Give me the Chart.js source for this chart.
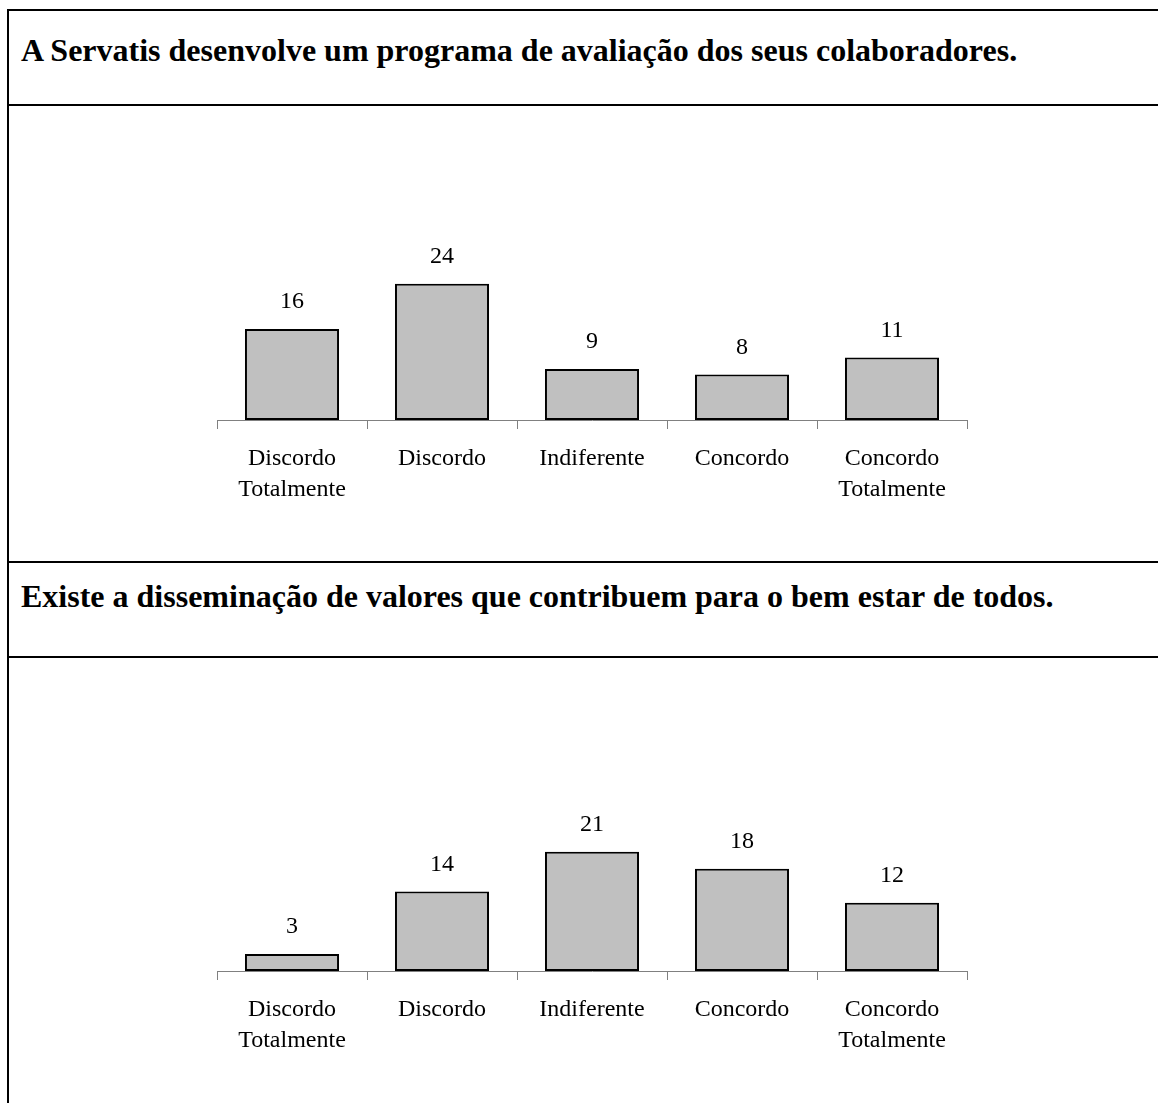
<!DOCTYPE html>
<html lang="pt">
<head>
<meta charset="utf-8">
<title>Avaliação e valores</title>
<script src="https://cdn.jsdelivr.net/npm/chart.js@4/dist/chart.umd.min.js"></script>
<style>
  html, body { margin: 0; padding: 0; background: #fff; overflow: hidden; }
  body { width: 1158px; height: 1103px; position: relative; font-family: "Liberation Serif", "Times New Roman", serif; }
  .hline { position: absolute; left: 7px; width: 1151px; height: 2px; background: #000; }
  .vline { position: absolute; left: 7px; top: 9px; width: 2px; height: 1094px; background: #000; }
  .title { position: absolute; left: 21px; font-weight: bold; font-size: 32px; line-height: 40px; white-space: nowrap; color: #000; }
  .chart-box { position: absolute; }
</style>
</head>
<body>
<div class="vline"></div>
<div class="hline" style="top:9px"></div>
<div class="hline" style="top:104px"></div>
<div class="hline" style="top:561px"></div>
<div class="hline" style="top:656px"></div>

<div class="title" id="title1" style="top:30px"></div>
<div class="title" id="title2" style="top:576px"></div>

<div class="chart-box" style="left:167px; top:136px;"><canvas id="servatisChart" width="850" height="384"></canvas></div>
<div class="chart-box" style="left:167px; top:687px;"><canvas id="valoresChart" width="850" height="384"></canvas></div>

<script>
// ===== Data =====
const categories = [['Discordo', 'Totalmente'], 'Discordo', 'Indiferente', 'Concordo', ['Concordo', 'Totalmente']];
const servatisValues = [16, 24, 9, 8, 11];
const valoresValues = [3, 14, 21, 18, 12];
const titles = [
  'A Servatis desenvolve um programa de avaliação dos seus colaboradores.',
  'Existe a disseminação de valores que contribuem para o bem estar de todos.'
];
const yMax = 50;

document.getElementById('title1').textContent = titles[0];
document.getElementById('title2').textContent = titles[1];

const serif = '"Liberation Serif", "Times New Roman", serif';

// numbers above each bar
const barValueLabels = {
  id: 'barValueLabels',
  afterDatasetsDraw(chart) {
    const ctx = chart.ctx;
    const values = chart.data.datasets[0].data;
    ctx.save();
    ctx.font = '24px ' + serif;
    ctx.fillStyle = '#000';
    ctx.textAlign = 'center';
    ctx.textBaseline = 'middle';
    chart.getDatasetMeta(0).data.forEach((bar, i) => {
      ctx.fillText(String(values[i]), bar.x, bar.y - 27);
    });
    ctx.restore();
  }
};

function makeChart(id, values) {
  const ctx = document.getElementById(id).getContext('2d');
  return new Chart(ctx, {
    type: 'bar',
    data: {
      labels: categories,
      datasets: [{
        data: values,
        backgroundColor: '#c0c0c0',
        borderColor: '#000',
        borderWidth: 2,
        borderSkipped: false,
        categoryPercentage: 1,
        barPercentage: 0.627
      }]
    },
    options: {
      responsive: false,
      animation: false,
      devicePixelRatio: 1,
      layout: { padding: { left: 50, right: 50, top: 0, bottom: 0 } },
      plugins: {
        legend: { display: false },
        tooltip: { enabled: false }
      },
      scales: {
        x: {
          offset: true,
          grid: {
            offset: true,
            drawOnChartArea: false,
            drawTicks: true,
            tickLength: 9,
            color: '#808080',
            lineWidth: 1
          },
          border: { display: true, color: '#808080', width: 1 },
          ticks: {
            color: '#000',
            padding: 14,
            maxRotation: 0,
            autoSkip: false,
            font: { family: serif, size: 24, lineHeight: 1.3 }
          },
          afterFit: (scale) => { scale.height = 100; }
        },
        y: {
          display: false,
          min: 0,
          max: yMax
        }
      }
    },
    plugins: [barValueLabels]
  });
}

// ===== Charts =====
const servatisChart = makeChart('servatisChart', servatisValues);
const valoresChart = makeChart('valoresChart', valoresValues);
</script>
</body>
</html>
